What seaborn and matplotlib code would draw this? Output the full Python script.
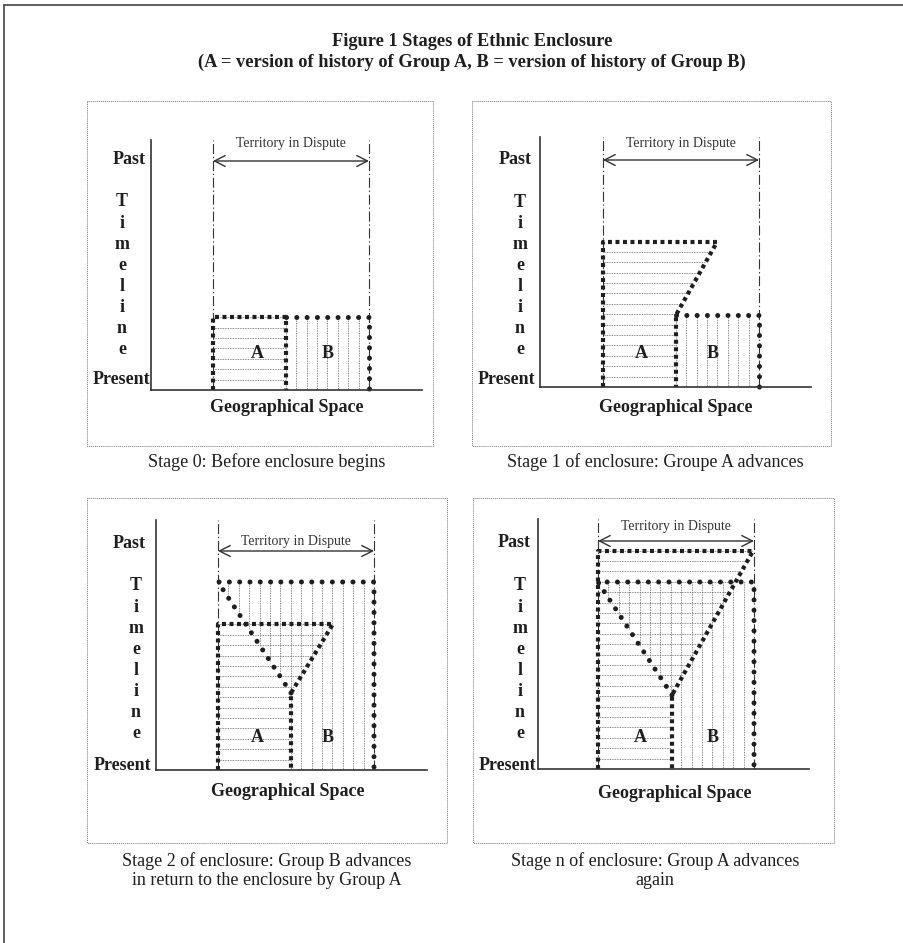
import numpy as np
import matplotlib
matplotlib.use("Agg")
import matplotlib.pyplot as plt
import seaborn as sns
from matplotlib.patches import Polygon, Rectangle

# ==========================================
# 1. DIAGRAM DATA
# ==========================================
title_text = ("Figure 1 Stages of Ethnic Enclosure\n"
              "(A = version of history of Group A, B = version of history of Group B)")
stage_captions = [
    "Stage 0: Before enclosure begins",
    "Stage 1 of enclosure: Groupe A advances",
    "Stage 2 of enclosure: Group B advances\nin return to the enclosure by Group A",
    "Stage n of enclosure: Group A advances\nagain",
]
# x = geographical space, y = time (0 = present)
group_a = [
    [(62, 0), (62, 73), (135, 73), (135, 0)],
    [(63, 0), (63, 145), (177, 145), (136, 72), (136, 0)],
    [(62, 0), (62, 146), (177, 146), (135, 77), (135, 0)],
    [(60, 0), (60, 218), (215, 218), (134, 74), (134, 0)],
]
group_b = [
    [(135, 0), (135, 73), (218, 73), (218, 0)],
    [(136, 0), (136, 72), (219, 72), (219, 0)],
    [(135, 0), (135, 77), (62, 188), (218, 188), (218, 0)],
    [(134, 0), (134, 74), (60, 187), (216, 187), (216, 0)],
]
dispute_left = [62, 63, 62, 60]
dispute_right = [218, 219, 218, 216]

# ==========================================
# 2. LAYOUT (pixels of the 904x943 canvas)
# ==========================================
FW, FH = 904, 943
W, H = 271, 250
origins = [(151, 390), (540, 387), (156, 770), (538, 769)]
boxes = [(87, 101, 433, 446), (472, 101, 831, 446), (87, 498, 447, 843), (473, 498, 834, 843)]
caption_xy = [(267, 462), (655, 462), (267, 871), (655, 871)]
arrow_y = [229, 227, 219, 228]
territory_y = [246, 244, 229, 242]
past_xy = [(-5, 230), (-8, 228), (-10, 227), (-7, 226)]
present_xy = [(-1, 10), (-5, 7), (-5, 5), (-2, 4)]
timeline_xy = [(-29, 188), (-20, 185), (-20, 184), (-18, 183)]
geo_xy = [(136, -18), (136, -20), (132, -22), (137, -24)]
a_xy = [(106, 37), (101, 34), (101, 33), (102, 32)]
b_xy = [(177, 37), (173, 34), (172, 33), (175, 32)]
hatch_step = 10.4

sns.set_theme(style="white")
plt.rcParams['font.family'] = ['Liberation Serif', 'DejaVu Serif']
ink = '#1e1e1e'

fig = plt.figure(figsize=(FW / 100, FH / 100), dpi=100)
bg = fig.add_axes([0, 0, 1, 1])
bg.set_xlim(0, FW)
bg.set_ylim(FH, 0)
bg.axis('off')

# outer frame (only top and left edges are visible)
bg.plot([4.5, 4.5], [943, 5], color='#444444', lw=1.2)
bg.plot([4.5, 904], [5, 5], color='#444444', lw=1.2)

bg.text(472, 52, title_text, ha='center', va='center', fontsize=13.2,
        fontweight='bold', color=ink, linespacing=1.25)

for (x0, y0, x1, y1), (cx, cy), cap in zip(boxes, caption_xy, stage_captions):
    bg.add_patch(Rectangle((x0, y0), x1 - x0, y1 - y0, fill=False,
                           ec='#777777', lw=0.7, ls=(0, (1, 1))))
    bg.text(cx, cy, cap, ha='center', va='center', fontsize=13, color=ink,
            linespacing=1.15)

# ==========================================
# 3. THE FOUR STAGE DIAGRAMS
# ==========================================
for i, (ox, oy) in enumerate(origins):
    ax = fig.add_axes([ox / FW, 1 - oy / FH, W / FW, H / FH])
    ax.set_facecolor('none')
    ax.set_xlim(0, W)
    ax.set_ylim(0, H)
    for side in ['top', 'right']:
        ax.spines[side].set_visible(False)
    for side in ['left', 'bottom']:
        ax.spines[side].set_color('#333333')
        ax.spines[side].set_linewidth(1.2)
    ax.set_xticks([])
    ax.set_yticks([])

    left, right = dispute_left[i], dispute_right[i]

    # hatching: A = horizontal dotted lines, B = vertical dotted lines
    patch_a = Polygon(group_a[i], closed=True, fill=False, lw=0)
    patch_b = Polygon(group_b[i], closed=True, fill=False, lw=0)
    ax.add_patch(patch_a)
    ax.add_patch(patch_b)
    hl = ax.hlines(np.arange(hatch_step, H, hatch_step), 0, W, colors='#666666',
                   lw=0.6, linestyles=(0, (1, 1)))
    hl.set_clip_path(patch_a)
    vl = ax.vlines(np.arange(left + hatch_step, right - 1, hatch_step), 0, H,
                   colors='#666666', lw=0.6, linestyles=(0, (1, 1)))
    vl.set_clip_path(patch_b)

    # territory in dispute
    for xd in (left, right):
        ax.plot([xd, xd], [0, H], color='#333333', lw=0.8, ls=(0, (9, 2.5, 1.2, 2.5)))
    ax.annotate('', xy=(right, arrow_y[i]), xytext=(left, arrow_y[i]),
                arrowprops=dict(arrowstyle='<->, head_length=0.55, head_width=0.28',
                                mutation_scale=14, lw=1.0, color='#333333',
                                shrinkA=0, shrinkB=0))
    ax.text((left + right) / 2, territory_y[i], 'Territory in Dispute', ha='center',
            va='center', fontsize=10, color='#333333')

    # borders of the two versions of history
    bx, by = zip(*group_b[i][1:])
    sns.lineplot(x=list(bx), y=list(by), ax=ax, estimator=None, sort=False,
                 color=ink, lw=3.6, linestyle=(0, (0.01, 2.05)),
                 dash_capstyle='round', clip_on=False)
    axx, ayy = zip(*group_a[i])
    sns.lineplot(x=list(axx), y=list(ayy), ax=ax, estimator=None, sort=False,
                 color=ink, lw=3.0, linestyle=(0, (0.95, 0.85)),
                 dash_capstyle='butt', clip_on=False)

    ax.text(*a_xy[i], 'A', ha='center', va='center', fontsize=13, fontweight='bold', color=ink)
    ax.text(*b_xy[i], 'B', ha='center', va='center', fontsize=13, fontweight='bold', color=ink)

    # axis labels
    ax.text(*past_xy[i], 'Past', ha='right', va='center', fontsize=13,
            fontweight='bold', color=ink, clip_on=False)
    ax.text(*present_xy[i], 'Present', ha='right', va='center', fontsize=13,
            fontweight='bold', color=ink, clip_on=False)
    tx, ty = timeline_xy[i]
    for k, ch in enumerate('Timeline'):
        ax.text(tx, ty - k * 21.1, ch, ha='center', va='center', fontsize=13,
                fontweight='bold', color=ink, clip_on=False)
    ax.text(*geo_xy[i], 'Geographical Space', ha='center', va='center', fontsize=13,
            fontweight='bold', color=ink, clip_on=False)
    ax.set_xlabel('')
    ax.set_ylabel('')

fig.savefig('out.png', dpi=100)
